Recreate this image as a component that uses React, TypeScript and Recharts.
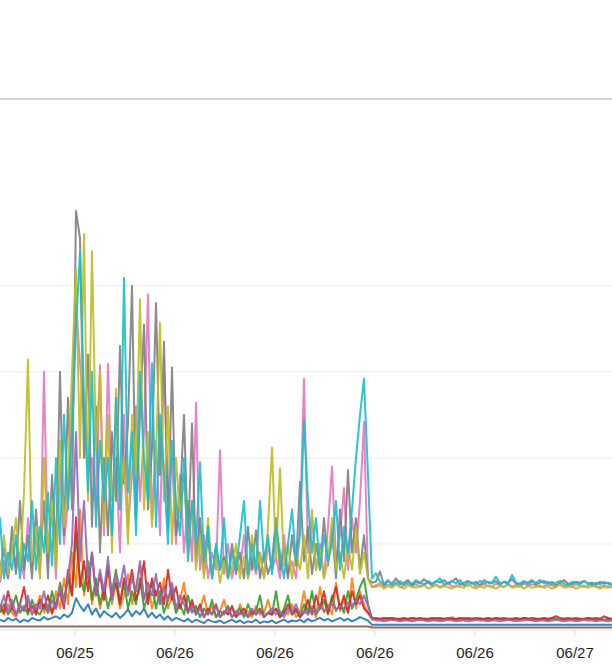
import React from 'react';
import { LineChart, Line, XAxis, YAxis, ReferenceLine } from 'recharts';

// tick labels on the time axis (positions in sample units, 4px per sample)
const xTickPositions = [18.75, 43.75, 68.75, 93.75, 118.75, 143.75];
const xTickLabels = ['06/25', '06/26', '06/26', '06/26', '06/26', '06/27'];
const gridValues = [100, 200, 300, 400];
const yMax = 617;

// busy period (samples 0-93) and quiet period (samples 94-153)
const grayPre = [
  70, 95, 60, 120, 65, 150, 70, 110, 60, 140,
  75, 150, 60, 180, 90, 300, 110, 270, 140, 487,
  455, 200, 320, 120, 260, 90, 200, 110, 230, 150,
  330, 170, 240, 400, 130, 250, 355, 140, 210, 380,
  180, 335, 120, 305, 110, 150, 250, 100, 240, 80,
  130, 65, 110, 60, 95, 70, 85, 60, 100, 65,
  90, 60, 120, 70, 116, 60, 90, 65, 80, 130,
  70, 95, 60, 110, 75, 172, 80, 120, 65, 100,
  70, 130, 75, 115, 60, 140, 80, 186, 90, 130,
  70, 110, 60, 55,
];
const grayPost = [
  56, 68, 52, 57, 54, 60, 53, 55, 58, 52,
  56, 54, 59, 55, 53, 57, 55, 58, 54, 56,
  60, 53, 55, 57, 54, 56, 52, 58, 55, 54,
  57, 53, 56, 55, 59, 54, 52, 56, 55, 58,
  53, 55, 57, 54, 56, 52, 55, 58, 54, 53,
  56, 55, 57, 54, 55, 53, 56, 54, 55, 53,
];

const olivePre = [
  60, 110, 65, 90, 130, 70, 160, 314, 80, 120,
  60, 200, 90, 150, 70, 220, 120, 180, 300, 420,
  200, 460, 150, 440, 210, 300, 120, 250, 90, 280,
  150, 200, 100, 250, 180, 384, 140, 230, 120, 200,
  357, 150, 260, 100, 200, 130, 180, 90, 150, 70,
  110, 60, 130, 65, 90, 55, 80, 60, 70, 100,
  60, 85, 60, 110, 70, 90, 60, 120, 212, 80,
  188, 75, 100, 60, 90, 70, 110, 60, 140, 70,
  95, 60, 80, 130, 70, 90, 60, 100, 70, 120,
  65, 90, 60, 50,
];
const olivePost = [
  50, 52, 48, 51, 49, 53, 50, 48, 52, 50,
  49, 51, 53, 48, 50, 52, 49, 51, 50, 48,
  52, 50, 49, 54, 50, 48, 51, 49, 52, 50,
  48, 51, 50, 53, 49, 50, 52, 48, 51, 49,
  50, 52, 49, 51, 48, 50, 53, 49, 50, 51,
  48, 50, 52, 49, 51, 50, 48, 50, 49, 50,
];

const pinkPre = [
  55, 80, 60, 100, 70, 90, 60, 130, 75, 110,
  65, 300, 80, 140, 60, 190, 100, 150, 260, 380,
  310, 250, 180, 200, 140, 308, 110, 309, 150, 200,
  90, 250, 120, 180, 260, 150, 230, 390, 130, 220,
  110, 316, 150, 200, 100, 180, 90, 150, 80, 264,
  70, 110, 60, 90, 70, 209, 65, 100, 60, 85,
  70, 110, 60, 80, 65, 90, 60, 100, 70, 85,
  60, 110, 65, 80, 60, 120, 292, 90, 130, 70,
  100, 60, 120, 190, 80, 110, 165, 70, 130, 90,
  150, 242, 60, 50,
];
const pinkPost = [
  52, 54, 50, 53, 51, 55, 50, 52, 54, 51,
  53, 50, 52, 56, 51, 53, 50, 52, 54, 51,
  50, 53, 52, 51, 55, 50, 52, 53, 51, 50,
  54, 52, 50, 53, 51, 52, 50, 54, 51, 53,
  52, 50, 51, 53, 52, 50, 54, 51, 52, 50,
  53, 51, 50, 52, 54, 51, 50, 52, 51, 50,
];

const cyanPre = [
  131, 60, 90, 70, 110, 60, 100, 80, 150, 70,
  120, 90, 160, 75, 200, 100, 250, 140, 230, 350,
  440, 270, 160, 300, 120, 220, 150, 200, 110, 270,
  140, 409, 160, 230, 110, 300, 200, 150, 310, 120,
  250, 180, 100, 220, 150, 110, 200, 80, 150, 100,
  195, 80, 120, 60, 100, 70, 130, 60, 90, 70,
  110, 150, 65, 100, 70, 150, 80, 110, 65, 120,
  90, 60, 100, 140, 80, 110, 244, 150, 90, 130,
  70, 110, 80, 100, 150, 70, 120, 90, 140, 200,
  250, 292, 180, 60,
];
const cyanPost = [
  66, 56, 54, 58, 52, 55, 57, 53, 56, 54,
  58, 55, 53, 57, 54, 56, 60, 53, 55, 57,
  54, 58, 52, 56, 55, 53, 57, 54, 56, 55,
  62, 54, 56, 53, 64, 55, 54, 57, 53, 56,
  55, 58, 54, 56, 53, 55, 57, 54, 52, 56,
  55, 53, 57, 54, 52, 55, 53, 56, 54, 52,
];

const orangePre = [
  25, 18, 30, 20, 15, 28, 22, 35, 18, 25,
  40, 20, 30, 18, 45, 25, 60, 30, 90, 50,
  140, 40, 70, 30, 55, 25, 45, 70, 30, 55,
  25, 40, 65, 30, 50, 75, 35, 55, 25, 45,
  30, 60, 25, 40, 20, 35, 55, 20, 30, 18,
  25, 40, 18, 28, 15, 22, 35, 18, 25, 15,
  30, 18, 22, 15, 28, 18, 20, 35, 18, 25,
  15, 22, 18, 30, 15, 20, 45, 18, 28, 15,
  50, 20, 30, 18, 55, 22, 35, 20, 60, 25,
  45, 30, 20, 12,
];
const orangePost = [
  12, 13, 11, 12, 14, 12, 11, 13, 12, 11,
  12, 14, 12, 11, 13, 12, 12, 11, 13, 15,
  12, 11, 12, 13, 11, 12, 14, 12, 11, 12,
  13, 12, 11, 12, 13, 12, 11, 14, 12, 12,
  11, 13, 12, 11, 12, 13, 12, 11, 12, 13,
  12, 11, 12, 12, 13, 11, 12, 12, 11, 12,
];

const greenPre = [
  20, 30, 18, 25, 40, 20, 28, 18, 35, 22,
  18, 30, 20, 45, 25, 55, 35, 60, 40, 110,
  60, 45, 80, 35, 60, 30, 50, 25, 45, 70,
  30, 55, 25, 45, 30, 60, 25, 40, 55, 25,
  45, 20, 35, 50, 20, 30, 18, 40, 20, 28,
  15, 25, 18, 35, 15, 22, 18, 28, 15, 20,
  25, 15, 30, 18, 22, 40, 15, 20, 18, 45,
  15, 25, 40, 18, 22, 15, 30, 20, 45, 18,
  25, 35, 18, 40, 22, 30, 20, 45, 25, 35,
  50, 60, 30, 13,
];
const greenPost = [
  13, 12, 13, 14, 12, 13, 12, 13, 12, 14,
  13, 12, 13, 12, 13, 14, 12, 13, 12, 13,
  12, 13, 14, 12, 13, 12, 13, 12, 13, 12,
  14, 13, 12, 13, 12, 13, 12, 14, 13, 12,
  13, 12, 13, 12, 14, 13, 12, 13, 12, 13,
  12, 13, 12, 14, 13, 12, 13, 12, 13, 12,
];

const redPre = [
  30, 20, 45, 25, 18, 30, 50, 22, 28, 18,
  35, 25, 40, 20, 30, 45, 25, 70, 40, 131,
  50, 80, 45, 90, 40, 65, 35, 75, 40, 55,
  30, 60, 45, 70, 35, 50, 80, 30, 60, 40,
  55, 30, 70, 35, 50, 25, 40, 20, 35, 18,
  30, 15, 25, 18, 30, 15, 22, 18, 28, 15,
  20, 25, 15, 22, 18, 25, 15, 20, 18, 25,
  15, 20, 30, 18, 25, 15, 20, 35, 18, 40,
  25, 45, 20, 35, 50, 25, 40, 20, 45, 30,
  40, 25, 20, 14,
];
const redPost = [
  14, 13, 14, 13, 14, 13, 13, 14, 13, 14,
  13, 14, 13, 13, 14, 13, 14, 13, 14, 13,
  13, 14, 13, 14, 13, 14, 13, 13, 14, 13,
  14, 13, 14, 13, 13, 14, 13, 14, 13, 14,
  13, 13, 14, 13, 14, 16, 14, 13, 14, 13,
  14, 13, 13, 14, 13, 14, 13, 16, 14, 13,
];

const purplePre = [
  25, 40, 20, 35, 18, 30, 22, 40, 18, 30,
  25, 45, 20, 35, 25, 50, 30, 60, 100, 230,
  80, 150, 60, 90, 40, 70, 45, 85, 35, 65,
  50, 75, 40, 60, 45, 80, 35, 55, 40, 65,
  30, 50, 35, 55, 25, 40, 30, 20, 28, 18,
  25, 15, 22, 18, 28, 15, 20, 25, 15, 22,
  18, 20, 15, 25, 18, 22, 15, 20, 25, 18,
  22, 15, 25, 20, 30, 18, 22, 18, 25, 20,
  28, 22, 25, 30, 24, 28, 25, 32, 28, 35,
  30, 40, 28, 14,
];
const purplePost = [
  11, 11, 10, 11, 12, 11, 10, 11, 11, 10,
  11, 12, 11, 10, 11, 11, 10, 11, 12, 11,
  10, 11, 11, 10, 11, 12, 11, 11, 10, 11,
  11, 10, 11, 12, 11, 10, 11, 11, 12, 11,
  10, 11, 11, 10, 11, 12, 11, 10, 11, 11,
  10, 11, 12, 11, 11, 10, 11, 11, 10, 11,
];

const bluePre = [
  12, 10, 14, 11, 13, 9, 12, 10, 14, 12,
  11, 15, 12, 14, 16, 13, 18, 15, 20, 37,
  28, 22, 30, 18, 25, 15, 22, 18, 15, 20,
  14, 18, 24, 16, 22, 18, 25, 15, 20, 14,
  18, 12, 16, 11, 14, 12, 10, 13, 9, 12,
  10, 8, 12, 10, 9, 11, 8, 10, 12, 9,
  11, 8, 10, 9, 12, 8, 10, 9, 11, 8,
  10, 12, 9, 11, 10, 12, 9, 13, 10, 12,
  14, 11, 13, 10, 12, 14, 11, 13, 10, 12,
  15, 13, 11, 6,
];
const bluePost = [
  6, 6, 6, 6, 6, 6, 6, 6, 6, 6,
  6, 6, 6, 6, 6, 6, 6, 6, 6, 6,
  6, 6, 6, 6, 6, 6, 6, 6, 6, 6,
  6, 6, 6, 6, 6, 6, 6, 6, 6, 6,
  6, 6, 6, 6, 6, 6, 6, 6, 6, 6,
  6, 6, 6, 6, 6, 6, 6, 6, 6, 6,
];

const brownPre = [
  4, 4, 4, 4, 4, 4, 4, 4, 4, 4,
  4, 4, 4, 4, 4, 4, 4, 4, 4, 4,
  4, 4, 4, 4, 4, 4, 4, 4, 4, 4,
  4, 4, 4, 4, 4, 4, 4, 4, 4, 4,
  4, 4, 4, 4, 4, 4, 4, 4, 4, 4,
  4, 4, 4, 4, 4, 4, 4, 4, 4, 4,
  4, 4, 4, 4, 4, 4, 4, 4, 4, 4,
  4, 4, 4, 4, 4, 4, 4, 4, 4, 4,
  4, 4, 4, 4, 4, 4, 4, 4, 4, 4,
  4, 4, 4, 3,
];
const brownPost = [
  3, 3, 3, 3, 3, 3, 3, 3, 3, 3,
  3, 3, 3, 3, 3, 3, 3, 3, 3, 3,
  3, 3, 3, 3, 3, 3, 3, 3, 3, 3,
  3, 3, 3, 3, 3, 3, 3, 3, 3, 3,
  3, 3, 3, 3, 3, 3, 3, 3, 3, 3,
  3, 3, 3, 3, 3, 3, 3, 3, 3, 3,
];

const series = [
  { key: 's0', color: '#1f77b4', values: [...bluePre, ...bluePost] },
  { key: 's1', color: '#ff7f0e', values: [...orangePre, ...orangePost] },
  { key: 's2', color: '#2ca02c', values: [...greenPre, ...greenPost] },
  { key: 's3', color: '#d62728', values: [...redPre, ...redPost] },
  { key: 's4', color: '#9467bd', values: [...purplePre, ...purplePost] },
  { key: 's5', color: '#8c564b', values: [...brownPre, ...brownPost] },
  { key: 's6', color: '#e377c2', values: [...pinkPre, ...pinkPost] },
  { key: 's7', color: '#7f7f7f', values: [...grayPre, ...grayPost] },
  { key: 's8', color: '#bcbd22', values: [...olivePre, ...olivePost] },
  { key: 's9', color: '#17becf', values: [...cyanPre, ...cyanPost] },
];

const data = series[0].values.map((_, i) => {
  const row: Record<string, number> = { t: i };
  series.forEach((s) => {
    row[s.key] = s.values[i];
  });
  return row;
});

export default function App() {
  return (
    <div
      style={{
        position: 'fixed',
        left: 0,
        top: 0,
        width: 612,
        height: 666,
        overflow: 'hidden',
        background: '#fff',
      }}
    >
      <LineChart
        width={612}
        height={666}
        data={data}
        margin={{ top: 99, right: 0, bottom: 0, left: 0 }}
      >
        <XAxis
          dataKey="t"
          type="number"
          domain={[0, 153]}
          ticks={xTickPositions}
          tickFormatter={(v, i) => xTickLabels[i]}
          height={36}
          axisLine={{ stroke: '#dddddd' }}
          tickLine={{ stroke: '#dddddd' }}
          tickSize={6}
          tickMargin={11}
          tick={{ fill: '#222', fontSize: 15, fontFamily: 'Liberation Sans, Arial, sans-serif' }}
          interval={0}
          allowDataOverflow
        />
        <YAxis hide domain={[0, yMax]} allowDataOverflow />
        {gridValues.map((g) => (
          <ReferenceLine key={g} y={g} stroke="#ececec" strokeWidth={1} />
        ))}
        <ReferenceLine y={yMax} stroke="#c4c4c4" strokeWidth={1.5} />
        {series.map((s) => (
          <Line
            key={s.key}
            dataKey={s.key}
            type="linear"
            stroke={s.color}
            strokeWidth={2}
            strokeOpacity={0.9}
            strokeLinejoin="round"
            dot={false}
            activeDot={false}
            isAnimationActive={false}
          />
        ))}
      </LineChart>
    </div>
  );
}
